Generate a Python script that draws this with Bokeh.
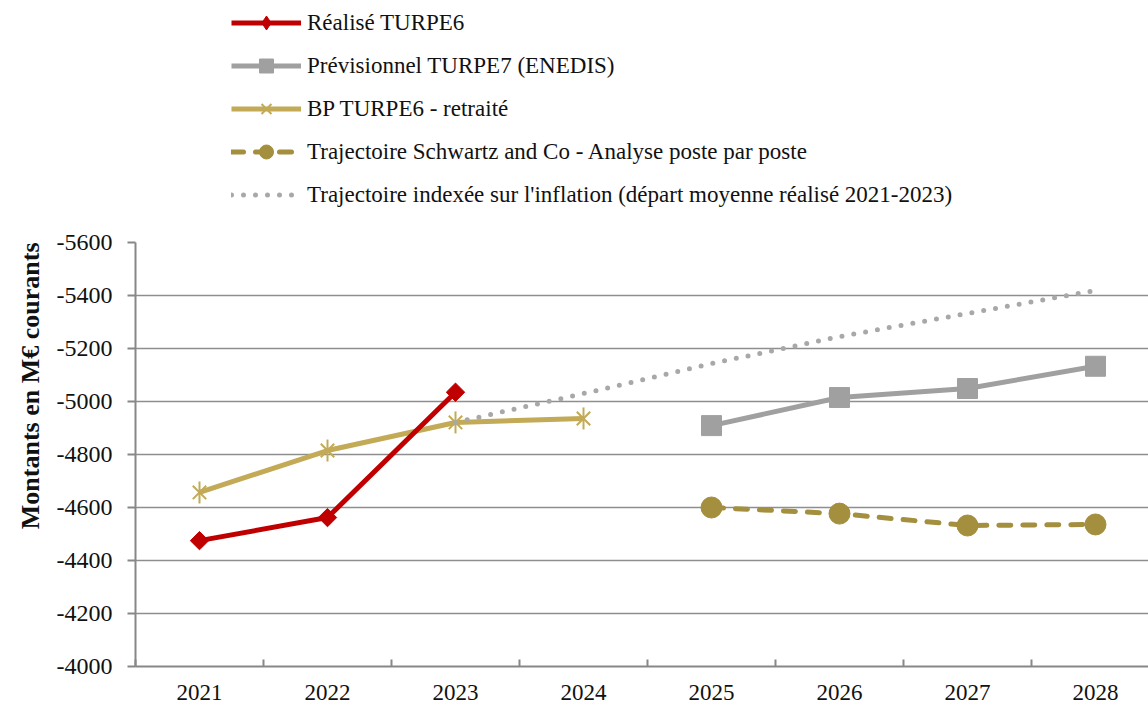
import math
from bokeh.plotting import figure
from bokeh.layouts import column
from bokeh.models import (Range1d, FixedTicker, Legend, LegendItem, Title)
from bokeh.embed import file_html
from bokeh.resources import INLINE

# ---------------- data ----------------
years = ["2021", "2022", "2023", "2024", "2025", "2026", "2027", "2028"]

realise_years = ["2021", "2022", "2023"]
realise_vals = [-4475, -4562, -5035]

prev_years = ["2025", "2026", "2027", "2028"]
prev_vals = [-4909, -5015, -5049, -5133]

bp_years = ["2021", "2022", "2023", "2024"]
bp_vals = [-4657, -4815, -4921, -4936]

schw_years = ["2025", "2026", "2027", "2028"]
schw_vals = [-4600, -4577, -4532, -4536]

infl_years = ["2023", "2024", "2025", "2026", "2027", "2028"]
infl_vals = [-4921, -5030, -5143, -5245, -5332, -5419]

y_ticks = [-5600, -5400, -5200, -5000, -4800, -4600, -4400, -4200, -4000]

labels = {
    "realise": "Réalisé TURPE6",
    "prev": "Prévisionnel TURPE7 (ENEDIS)",
    "bp": "BP TURPE6 - retraité",
    "schw": "Trajectoire Schwartz and Co - Analyse poste par poste",
    "infl": "Trajectoire indexée sur l'inflation (départ moyenne réalisé 2021-2023)",
}
y_title = "Montants en M€ courants"


def xs(yrs):
    return [years.index(y) + 0.5 for y in yrs]


FONT = "Liberation Serif"
TXT = "#111111"
AX = "#878787"

RED = "#C00000"
GREY = "#A0A0A0"
TAN = "#C2AA57"
OLIVE = "#A38F3E"
DOT = "#A8A8A8"

STYLES = {
    "realise": dict(color=RED, dash="solid", marker="square", angle=math.pi / 4, size=13),
    "prev": dict(color=GREY, dash="solid", marker="square", angle=0, size=20),
    "bp": dict(color=TAN, dash="solid", marker=None),
    "schw": dict(color=OLIVE, dash="12 12", marker="circle", angle=0, size=21),
    "infl": dict(color=DOT, dash="0 12", marker=None),
}


def draw(fig, key, x, y, legend_swatch=False):
    st = STYLES[key]
    rs = [fig.line(x, y, line_color=st["color"], line_width=5,
                   line_dash=st["dash"], line_cap="round" if st["dash"] != "solid" else "butt")]
    if key == "bp":
        rs.append(fig.scatter(x, y, marker="x", size=19, line_color=TAN, line_width=2))
        rs.append(fig.scatter(x, y, marker="dash", angle=math.pi / 2, size=22,
                              line_color=TAN, line_width=2))
    elif st["marker"]:
        marker = st["marker"]
        if legend_swatch and key == "realise":
            marker = "diamond"  # legend swatches ignore marker angle
        rs.append(fig.scatter(x, y, marker=marker, angle=st["angle"], size=st["size"],
                              fill_color=st["color"], line_color=st["color"]))
    return rs


# ---------------- main chart ----------------
p = figure(width=1148, height=475, output_backend="svg", toolbar_location=None,
           x_range=Range1d(0, 7.914), y_range=Range1d(-4000, -5600),
           min_border_top=12, min_border_left=135, min_border_right=0,
           min_border_bottom=39)
p.outline_line_color = None
p.background_fill_color = "white"

xa = p.xaxis[0]
xa.ticker = FixedTicker(ticks=[i + 0.5 for i in range(len(years))],
                        minor_ticks=list(range(len(years) + 1)))
xa.major_label_overrides = {i + 0.5: y for i, y in enumerate(years)}
xa.major_tick_line_color = None
xa.minor_tick_in = 7
xa.minor_tick_out = 0
xa.minor_tick_line_color = AX
xa.minor_tick_line_width = 2
xa.axis_line_color = AX
xa.axis_line_width = 2
xa.major_label_text_font = FONT
xa.major_label_text_font_size = "23px"
xa.major_label_text_color = TXT
xa.major_label_standoff = 12

ya = p.yaxis[0]
ya.ticker = FixedTicker(ticks=y_ticks)
ya.major_label_overrides = {v: str(v) for v in y_ticks}
ya.major_tick_out = 8
ya.major_tick_in = 0
ya.major_tick_line_color = AX
ya.major_tick_line_width = 2
ya.minor_tick_line_color = None
ya.axis_line_color = AX
ya.axis_line_width = 2
ya.major_label_text_font = FONT
ya.major_label_text_font_size = "24px"
ya.major_label_text_color = TXT
ya.major_label_standoff = 15

p.xgrid.visible = False
p.ygrid.ticker = FixedTicker(ticks=y_ticks)
p.ygrid.grid_line_color = "#8e8e8e"
p.ygrid.grid_line_width = 1.6

draw(p, "bp", xs(bp_years), bp_vals)
draw(p, "infl", xs(infl_years), infl_vals)
draw(p, "realise", xs(realise_years), realise_vals)
draw(p, "prev", xs(prev_years), prev_vals)
draw(p, "schw", xs(schw_years), schw_vals)

p.add_layout(Title(text=y_title, align="right", offset=0, standoff=18,
                   text_font=FONT, text_font_style="bold",
                   text_font_size="26px", text_color=TXT), "left")

# ---------------- legend strip ----------------
top = figure(width=1148, height=230, output_backend="svg", toolbar_location=None,
             x_range=Range1d(0, 1), y_range=Range1d(0, 1),
             x_axis_type=None, y_axis_type=None,
             min_border=0, min_border_left=0, min_border_right=0,
             min_border_top=0, min_border_bottom=0)
top.outline_line_color = None
top.xgrid.visible = False
top.ygrid.visible = False

order = ["realise", "prev", "bp", "schw", "infl"]
items = []
for k in order:
    # placeholder data outside the visible range; only the legend swatch is seen
    items.append(LegendItem(label=labels[k],
                            renderers=draw(top, k, [-5, -4], [-5, -5], legend_swatch=True)))

legend = Legend(items=items, location=(96, 18), orientation="vertical")
legend.background_fill_alpha = 0
legend.border_line_color = None
legend.label_text_font = FONT
legend.label_text_font_size = "23px"
legend.label_text_color = TXT
legend.glyph_width = 70
legend.glyph_height = 35
legend.label_height = 20
legend.spacing = 8
legend.padding = 0
legend.margin = 0
legend.label_standoff = 6
top.add_layout(legend, "center")

layout = column(top, p, spacing=0)
open("out.html", "w").write(file_html(layout, INLINE))
